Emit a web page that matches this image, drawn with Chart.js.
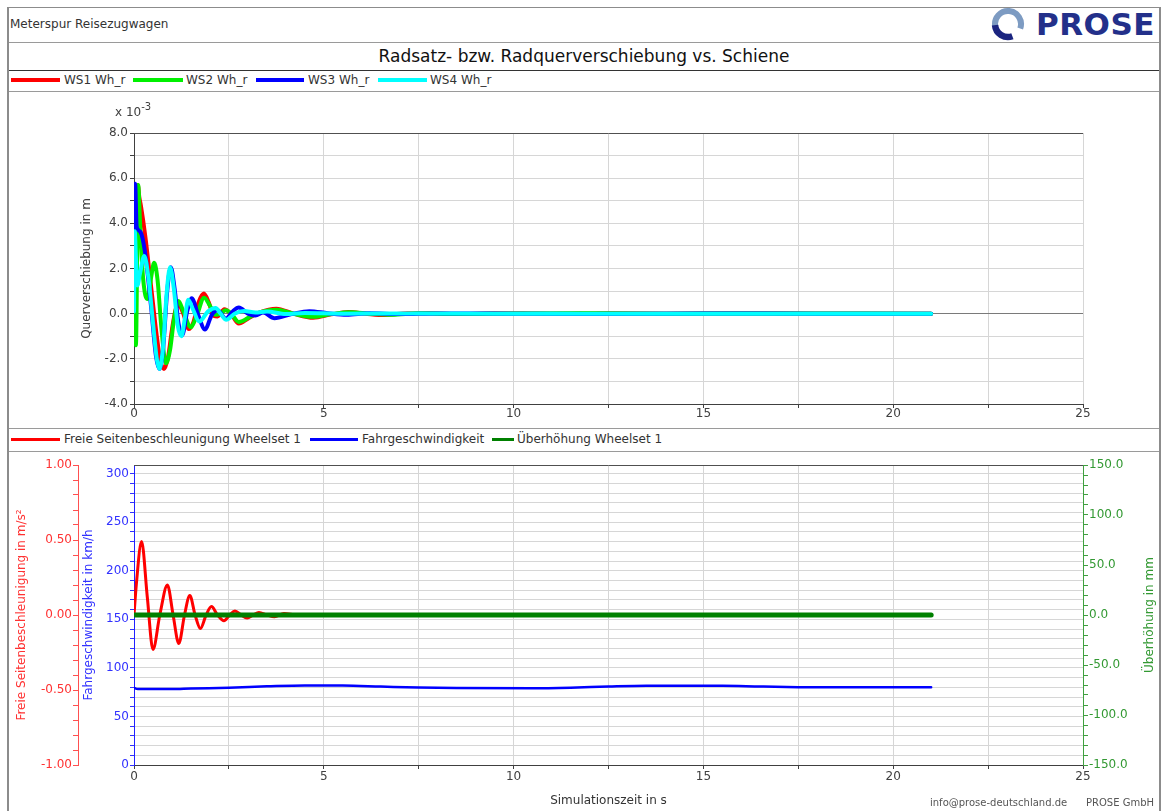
<!DOCTYPE html>
<html lang="de">
<head>
<meta charset="utf-8">
<title>Radsatz- bzw. Radquerverschiebung vs. Schiene</title>
<script src="https://cdn.jsdelivr.net/npm/chart.js@4.4.1/dist/chart.umd.min.js"></script>
<style>
  html, body { margin:0; padding:0; background:#fff; }
  body { position:relative; width:1167px; height:811px; overflow:hidden; font-family:"DejaVu Sans", Verdana, sans-serif; color:#333; }
  .abs { position:absolute; white-space:nowrap; }
  .frame { position:absolute; left:7px; top:7px; width:1150px; height:830px; border-left:2px solid #8c8c8c; border-right:2px solid #8c8c8c; border-top:1px solid #8c8c8c; }
  .rule { position:absolute; left:9px; width:1150px; height:1px; background:#9a9a9a; }
  .sw { position:absolute; }
  .lt { position:absolute; height:19px; line-height:19px; font-size:12px; color:#333; white-space:nowrap; }
  canvas { position:absolute; left:0; display:block; }
</style>
</head>
<body>
<div class="frame"></div>

<div class="abs" style="left:10px;top:17px;font-size:12px;color:#333;">Meterspur Reisezugwagen</div>
<svg class="abs" style="left:990px;top:7px" width="38" height="36" viewBox="0 0 38 36">
  <path d="M5.2 19.3 A13 13 0 1 1 30.2 21.5" fill="none" stroke="#7d9bc2" stroke-width="6"/>
  <path d="M22.4 29.2 A13 13 0 0 1 5.05 18.1" fill="none" stroke="#1b2580" stroke-width="6.5"/>
</svg>
<div class="abs" style="left:1036px;top:6px;font-size:31px;line-height:36px;font-weight:bold;color:#23308a;letter-spacing:0.5px;">PROSE</div>

<div class="rule" style="top:42px"></div>
<div class="abs" style="left:9px;width:1150px;top:42px;height:28px;line-height:28px;text-align:center;font-size:17px;color:#111;">Radsatz- bzw. Radquerverschiebung vs. Schiene</div>
<div class="rule" style="top:70px;background:#333"></div>

<div class="sw" style="left:11px;top:78px;width:49px;height:4px;background:#ff0000"></div>
<div class="lt" style="left:64px;top:71px">WS1 Wh_r</div>
<div class="sw" style="left:133px;top:78px;width:50px;height:4px;background:#00f000"></div>
<div class="lt" style="left:186px;top:71px">WS2 Wh_r</div>
<div class="sw" style="left:256px;top:78px;width:48px;height:4px;background:#0000ff"></div>
<div class="lt" style="left:308px;top:71px">WS3 Wh_r</div>
<div class="sw" style="left:378px;top:78px;width:49px;height:4px;background:#00ffff"></div>
<div class="lt" style="left:430px;top:71px">WS4 Wh_r</div>
<div class="rule" style="top:91px"></div>

<canvas id="topChart" width="1167" height="336" style="top:92px"></canvas>
<div class="abs" style="left:115px;top:105px;font-size:12px;line-height:14px;color:#404040;">x 10<sup style="font-size:10px;vertical-align:6px;line-height:0">-3</sup></div>

<div class="rule" style="top:428px"></div>
<div class="sw" style="left:11px;top:438px;width:49px;height:3px;background:#ff0000"></div>
<div class="lt" style="left:64px;top:430px">Freie Seitenbeschleunigung Wheelset 1</div>
<div class="sw" style="left:310px;top:438px;width:48px;height:3px;background:#0000ff"></div>
<div class="lt" style="left:362px;top:430px">Fahrgeschwindigkeit</div>
<div class="sw" style="left:492px;top:438px;width:22px;height:3px;background:#008000"></div>
<div class="lt" style="left:517px;top:430px">Überhöhung Wheelset 1</div>
<div class="rule" style="top:451px"></div>

<canvas id="bottomChart" width="1167" height="359" style="top:452px"></canvas>

<div class="abs" style="left:930px;top:797px;font-size:10px;color:#555;">info@prose-deutschland.de</div>
<div class="abs" style="left:1086px;top:797px;font-size:10px;color:#555;">PROSE GmbH</div>

<script>
// top chart: Querverschiebung (x 10^-3 m) over Simulationszeit (s)
const ws1Time = [0, 0.04, 0.1, 0.14, 0.18, 0.3, 0.45, 0.6, 0.7, 0.79, 0.9, 1.0, 1.1, 1.18, 1.3, 1.44, 1.56, 1.7, 1.84, 1.97, 2.1, 2.2, 2.38, 2.55, 2.76, 3.0, 3.3, 3.75, 4.2, 4.72, 5.2, 5.65, 6.1, 6.6, 7.2, 7.8, 8.5, 9.5, 11, 12.5, 14, 16, 18, 21];
const ws1Val  = [0, 2.6, 5.7, 5.15, 4.8, 3.4, 1.2, -1.0, -2.1, -2.45, -1.9, -0.7, 0.2, 0.38, 0.0, -0.68, -0.4, 0.5, 0.89, 0.5, -0.1, -0.12, 0.2, 0.0, -0.44, -0.22, 0.05, 0.22, 0.0, -0.18, -0.03, 0.07, 0.0, -0.06, 0.02, 0.03, -0.02, 0.02, -0.01, 0.02, 0.0, 0.01, 0.0, 0.0];

const ws2Time = [0, 0.05, 0.11, 0.16, 0.22, 0.3, 0.36, 0.45, 0.53, 0.62, 0.72, 0.84, 0.95, 1.05, 1.17, 1.3, 1.5, 1.65, 1.85, 2.0, 2.15, 2.27, 2.42, 2.56, 2.76, 3.1, 3.4, 3.75, 4.2, 4.72, 5.2, 5.7, 6.2, 6.8, 7.5, 8.5, 10, 12, 14, 17, 21];
const ws2Val  = [0, -1.4, 5.7, 4.0, 2.0, 0.8, 0.65, 1.6, 2.25, 1.5, -0.6, -2.2, -1.6, -0.3, 0.56, 0.1, -0.6, -0.1, 0.71, 0.35, -0.05, 0.0, 0.15, 0.0, -0.37, -0.1, 0.1, 0.17, 0.0, -0.14, -0.02, 0.06, 0.0, -0.05, 0.02, -0.02, 0.01, 0.02, 0.0, 0.01, 0.0];

const ws3Time = [0, 0.03, 0.07, 0.12, 0.2, 0.3, 0.45, 0.58, 0.67, 0.77, 0.87, 0.97, 1.07, 1.17, 1.27, 1.4, 1.52, 1.68, 1.87, 2.05, 2.2, 2.42, 2.6, 2.76, 3.0, 3.2, 3.4, 3.7, 4.15, 4.62, 5.1, 5.6, 6.2, 7.0, 8.0, 10, 12, 15, 18, 21];
const ws3Val  = [3.8, 5.75, 3.85, 3.7, 3.5, 2.6, 0.3, -1.9, -2.45, -1.5, 0.9, 2.05, 1.1, -0.4, -0.95, 0.1, 0.68, 0.0, -0.7, -0.05, 0.15, -0.22, 0.1, 0.27, 0.0, -0.08, 0.05, -0.2, -0.02, 0.11, 0.02, -0.05, 0.02, -0.02, 0.01, 0.0, -0.01, 0.01, 0.0, 0.0];

const ws4Time = [0, 0.02, 0.05, 0.09, 0.16, 0.27, 0.38, 0.5, 0.6, 0.67, 0.77, 0.86, 0.95, 1.05, 1.15, 1.25, 1.34, 1.43, 1.55, 1.72, 1.95, 2.15, 2.28, 2.43, 2.65, 2.9, 3.2, 3.5, 4.0, 4.5, 5.5, 7, 10, 14, 21];
const ws4Val  = [0.1, 3.65, 2.5, 1.25, 1.8, 2.55, 1.6, -0.4, -2.0, -2.45, -1.4, 0.9, 2.05, 1.1, -0.5, -1.0, -0.2, 0.62, 0.2, -0.35, 0.1, 0.25, 0.0, -0.27, 0.0, 0.12, 0.05, 0.1, -0.02, 0.03, 0.0, 0.01, 0.0, 0.0, 0.0];

// bottom chart
const accTime = [0, 0.06, 0.2, 0.35, 0.5, 0.68, 0.88, 1.03, 1.18, 1.33, 1.47, 1.61, 1.75, 1.9, 2.04, 2.2, 2.37, 2.52, 2.66, 2.82, 2.98, 3.14, 3.29, 3.5, 3.7, 3.95, 4.3, 5, 21];
const accVal  = [0, 0.2, 0.49, 0.12, -0.23, 0.0, 0.2, 0.0, -0.19, 0.0, 0.13, 0.0, -0.09, 0.0, 0.056, 0.0, -0.038, 0.0, 0.027, 0.0, -0.02, 0.0, 0.017, 0.0, -0.012, 0.01, 0.0, 0.0, 0.0];

const speedTime = [0, 0.1, 1.0, 1.5, 2.5, 3.5, 4.5, 5.5, 6.5, 7.5, 8.5, 10.5, 11.5, 12.5, 13.5, 15.5, 16.5, 17.5, 19, 21];
const speedVal  = [79.5, 78.3, 78.2, 78.8, 79.6, 81, 82, 81.8, 80.8, 79.8, 79.2, 79.0, 79.6, 80.8, 81.6, 81.6, 80.8, 80.2, 80.0, 80.0];

const uebTime = [0, 21];
const uebVal  = [0, 0];

// labelled ticks
const timeLabels  = [0, 5, 10, 15, 20, 25];
const querLabels  = [-4, -2, 0, 2, 4, 6, 8];
const accLabels   = [-1, -0.5, 0, 0.5, 1];
const speedLabels = [0, 50, 100, 150, 200, 250, 300];
const uebLabels   = [-150, -100, -50, 0, 50, 100, 150];

const pts = (ts, vs) => ts.map((t, i) => ({ x: t, y: vs[i] }));
const inList = (v, list) => list.some(l => Math.abs(l - v) < 1e-6);
const fix = (v, d) => (Math.round(v * 1000) / 1000 || 0).toFixed(d);

Chart.defaults.font.family = '"DejaVu Sans", Verdana, sans-serif';
Chart.defaults.font.size = 12;
Chart.defaults.color = '#404040';

const plotFrame = {
  id: 'plotFrame',
  beforeDatasetsDraw(chart) {
    const { ctx, chartArea: a } = chart;
    ctx.save();
    ctx.strokeStyle = '#505050';
    ctx.lineWidth = 1;
    ctx.beginPath();
    ctx.moveTo(a.left, Math.round(a.top) + 0.5);
    ctx.lineTo(a.right, Math.round(a.top) + 0.5);
    ctx.stroke();
    ctx.restore();
  }
};

const rightTitle = {
  id: 'rightTitle',
  afterDraw(chart, args, opts) {
    if (!opts.text) return;
    const { ctx, chartArea: a } = chart;
    ctx.save();
    ctx.translate(opts.x, (a.top + a.bottom) / 2);
    ctx.rotate(-Math.PI / 2);
    ctx.fillStyle = opts.color;
    ctx.font = '12px "DejaVu Sans", Verdana, sans-serif';
    ctx.textAlign = 'center';
    ctx.textBaseline = 'middle';
    ctx.fillText(opts.text, 0, 0);
    ctx.restore();
  }
};

const lineEl = { borderWidth: 4, cubicInterpolationMode: 'monotone', borderCapStyle: 'round', borderJoinStyle: 'round' };

new Chart(document.getElementById('topChart'), {
  type: 'line',
  data: {
    datasets: [
      { label: 'WS1 Wh_r', data: pts(ws1Time, ws1Val), borderColor: '#ff0000', order: 4 },
      { label: 'WS2 Wh_r', data: pts(ws2Time, ws2Val), borderColor: '#00f000', order: 3 },
      { label: 'WS3 Wh_r', data: pts(ws3Time, ws3Val), borderColor: '#0000ff', order: 2 },
      { label: 'WS4 Wh_r', data: pts(ws4Time, ws4Val), borderColor: '#00ffff', order: 1 }
    ]
  },
  options: {
    responsive: false,
    animation: false,
    layout: { padding: { left: 8, right: 84, top: 41, bottom: 0 } },
    elements: { point: { radius: 0 }, line: lineEl },
    plugins: { legend: { display: false }, tooltip: { enabled: false } },
    scales: {
      x: {
        type: 'linear', min: 0, max: 25,
        afterFit: s => { s.height = 24; },
        ticks: { stepSize: 2.5, autoSkip: false, maxRotation: 0, padding: -1,
                 callback: v => inList(v, timeLabels) ? String(v) : '' },
        grid: { color: '#d6d6d6', tickColor: '#404040', tickLength: 4 },
        border: { color: '#404040' }
      },
      y: {
        min: -4, max: 8,
        afterFit: s => { s.width = 126; },
        ticks: { stepSize: 1, autoSkip: false, padding: 2,
                 callback: v => inList(v, querLabels) ? fix(v, 1) : '' },
        grid: { color: c => (c.tick && c.tick.value === 0) ? '#7a7a7a' : '#d6d6d6', tickColor: '#404040', tickLength: 4 },
        border: { color: '#404040' },
        title: { display: true, text: 'Querverschiebung in m', color: '#404040', padding: { top: 72, bottom: 0 } }
      }
    }
  },
  plugins: [plotFrame]
});

new Chart(document.getElementById('bottomChart'), {
  type: 'line',
  data: {
    datasets: [
      { label: 'Freie Seitenbeschleunigung Wheelset 1', data: pts(accTime, accVal), borderColor: '#ff0000', borderWidth: 3, yAxisID: 'yAcc', order: 3 },
      { label: 'Fahrgeschwindigkeit', data: pts(speedTime, speedVal), borderColor: '#0000ff', borderWidth: 2.5, yAxisID: 'ySpeed', order: 2 },
      { label: 'Überhöhung Wheelset 1', data: pts(uebTime, uebVal), borderColor: '#008000', borderWidth: 5, yAxisID: 'yUeb', order: 1 }
    ]
  },
  options: {
    responsive: false,
    animation: false,
    layout: { padding: { left: 8, right: 7, top: 13, bottom: 0 } },
    elements: { point: { radius: 0 }, line: lineEl },
    plugins: {
      legend: { display: false }, tooltip: { enabled: false },
      rightTitle: { text: 'Überhöhung in mm', color: '#339933', x: 1150 }
    },
    scales: {
      x: {
        type: 'linear', min: 0, max: 25,
        afterFit: s => { s.height = 46; },
        ticks: { stepSize: 2.5, autoSkip: false, maxRotation: 0, padding: 1,
                 callback: v => inList(v, timeLabels) ? String(v) : '' },
        grid: { color: '#d6d6d6', tickColor: '#404040', tickLength: 4 },
        border: { color: '#404040' },
        title: { display: true, text: 'Simulationszeit in s', color: '#333', padding: { top: 0, bottom: 3 } }
      },
      ySpeed: {
        position: 'left', weight: 0, min: 0, max: 309,
        afterFit: s => { s.width = 56; },
        ticks: { stepSize: 10, includeBounds: false, autoSkip: false, color: '#3232ff', padding: 1,
                 callback: v => inList(v, speedLabels) ? String(v) : '' },
        grid: { color: '#d6d6d6', tickColor: '#3232ff', tickLength: 4 },
        border: { color: '#2020ff' },
        title: { display: true, text: 'Fahrgeschwindigkeit in km/h', color: '#3232ff', padding: { top: 4, bottom: 0 } }
      },
      yAcc: {
        position: 'left', weight: 10, min: -1, max: 1,
        afterFit: s => { s.width = 70; },
        ticks: { stepSize: 0.1, autoSkip: false, color: '#ff3232', padding: 1,
                 callback: v => inList(v, accLabels) ? fix(v, 2) : '' },
        grid: { drawOnChartArea: false, color: '#ff5050', tickLength: 5 },
        border: { color: '#ff5050' },
        title: { display: true, text: 'Freie Seitenbeschleunigung in m/s²', color: '#ff3232', padding: { top: 7, bottom: 0 } }
      },
      yUeb: {
        position: 'right', min: -150, max: 150,
        afterFit: s => { s.width = 77; },
        ticks: { stepSize: 10, autoSkip: false, color: '#339933', padding: 1,
                 callback: v => inList(v, uebLabels) ? fix(v, 1) : '' },
        grid: { drawOnChartArea: false, color: '#40a040', tickLength: 5 },
        border: { color: '#40a040' }
      }
    }
  },
  plugins: [plotFrame, rightTitle]
});
</script>
</body>
</html>
